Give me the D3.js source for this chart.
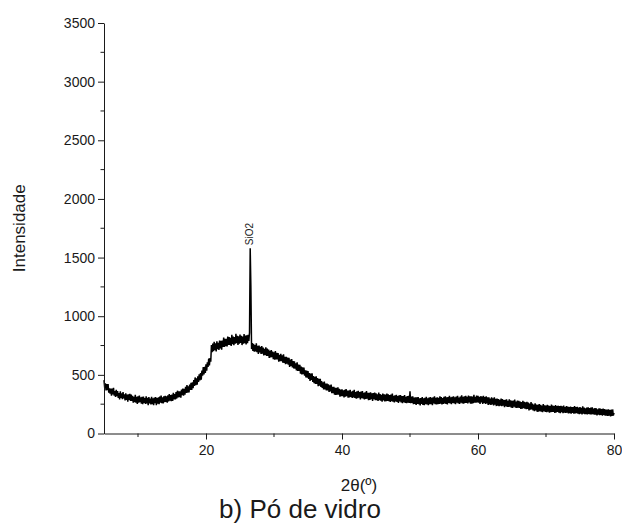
<!DOCTYPE html>
<html>
<head>
<meta charset="utf-8">
<script src="https://cdn.jsdelivr.net/npm/d3@7"></script>
<style>
  html, body { margin: 0; padding: 0; background: #fff; }
  svg { display: block; font-family: "Liberation Sans", Arial, sans-serif; }
</style>
</head>
<body>
<svg id="chart" width="622" height="529"></svg>
<script>
// ---- data (one row per degree, 0.1° steps) ----
const angleStart = 5;      // first 2θ of the scan
const angleStep = 0.1;     // scan step, degrees
const intensity = [
  455,390,428,368,421,370,422,348,384,340,
  382,323,383,334,390,322,361,312,372,318,
  361,303,345,291,359,303,343,293,354,299,
  333,282,342,287,332,272,335,286,338,277,
  332,277,322,263,312,267,330,263,312,253,
  318,263,323,268,309,255,312,249,315,262,
  303,253,318,256,305,241,310,256,297,247,
  312,250,300,242,306,259,311,241,303,254,
  308,249,314,263,324,259,308,257,318,267,
  322,269,317,262,326,273,337,280,328,275,
  332,278,346,291,337,291,354,298,365,307,
  360,309,360,305,374,327,384,323,380,331,
  397,345,413,349,403,351,417,371,433,371,
  436,386,456,406,478,412,470,416,488,440,
  504,453,516,459,536,493,566,503,568,517,
  590,536,606,568,638,580,644,612,755,693,
  766,702,782,710,768,700,786,720,774,712,
  792,726,791,715,792,738,819,737,808,744,
  807,743,827,755,823,755,815,746,841,762,
  827,754,823,766,851,771,834,756,829,765,
  844,772,832,754,826,766,848,770,836,760,
  838,770,842,790,860,1580,1250,720,770,705,
  765,697,754,700,768,693,747,679,750,692,
  740,678,746,681,733,665,721,669,734,662,
  724,662,715,645,704,648,712,651,699,634,
  692,630,702,631,687,631,685,612,670,616,
  680,617,667,604,676,601,653,590,654,595,
  648,587,645,568,630,577,635,564,618,555,
  615,553,599,537,607,533,587,533,585,511,
  571,503,564,506,563,493,538,478,537,477,
  532,466,516,448,512,456,514,440,490,430,
  484,422,487,423,472,404,466,407,467,398,
  448,389,436,375,442,375,426,367,426,367,
  420,354,410,358,417,343,397,343,399,330,
  390,328,390,332,393,331,381,314,374,318,
  377,318,368,307,373,314,379,319,366,306,
  366,307,373,312,357,303,364,307,373,304,
  354,296,359,301,364,306,353,291,358,302,
  361,298,346,291,352,294,361,296,346,285,
  346,287,351,292,342,277,345,292,350,285,
  342,284,335,277,348,284,337,279,330,272,
  341,283,334,274,331,275,340,278,333,275,
  328,270,331,275,340,272,321,265,326,274,
  329,269,320,260,325,273,328,264,319,259,
  320,268,327,261,312,258,319,263,322,260,
  360,258,314,260,317,250,307,252,309,243,
  308,252,311,249,300,240,303,253,310,244,
  300,242,304,250,313,247,299,241,306,250,
  311,251,305,242,308,256,318,249,305,247,
  308,250,304,252,316,254,311,247,303,253,
  313,257,317,252,308,248,310,261,321,257,
  309,251,313,260,318,256,308,249,315,263,
  321,257,307,252,314,262,326,257,313,255,
  317,261,321,260,312,256,324,265,317,255,
  317,255,315,259,329,264,312,262,324,266,
  322,262,313,253,318,266,315,253,322,260,
  310,253,316,257,308,243,308,249,298,243,
  308,247,300,239,308,246,295,234,297,238,
  293,232,288,237,298,232,293,238,286,225,
  288,233,291,226,278,227,291,228,282,221,
  278,217,281,228,290,221,273,218,280,221,
  278,219,273,210,267,212,278,217,270,211,
  266,207,270,209,264,197,256,203,267,205,
  255,196,247,190,257,196,247,185,244,187,
  250,190,245,187,237,182,250,190,241,183,
  238,182,244,187,239,177,233,182,246,184,
  239,183,233,176,242,180,234,185,237,177,
  234,174,235,181,231,174,238,178,225,175,
  234,178,230,171,225,173,230,168,226,176,
  225,169,233,172,226,174,228,169,221,165,
  226,170,219,163,231,170,222,164,215,165,
  220,162,223,167,216,162,220,163,223,165,
  212,160,217,161,214,154,207,161,214,156,
  213,159,208,152,213,159,208,152,203,153,
  204,150,207,153,199,146,204,149,205,153,
  176
];
const peakLabels = [{ angle: 26.5, value: 1580, text: "SiO2" }];
const xMajorTicks = [20, 40, 60, 80];
const xMinorTicks = [10, 30, 50, 70];
const yMajorTicks = [0, 500, 1000, 1500, 2000, 2500, 3000, 3500];
const yMinorTicks = [250, 750, 1250, 1750, 2250, 2750, 3250];
const xDomain = [5, 80];
const yDomain = [0, 3500];
const xTitle = "2θ(º)";
const yTitle = "Intensidade";
const caption = "b) Pó de vidro";

// ---- drawing ----
const svg = d3.select("#chart");
const ink = "#1a1a1a";
const x = d3.scaleLinear().domain(xDomain).range([104, 614]);
const y = d3.scaleLinear().domain(yDomain).range([433.5, 23]);

const pts = intensity.map((v, i) => ({ a: angleStart + i * angleStep, v }));

// curve
svg.append("path")
  .datum(pts)
  .attr("fill", "none")
  .attr("stroke", "#000")
  .attr("stroke-width", 1.5)
  .attr("stroke-linejoin", "bevel")
  .attr("d", d3.line().x(d => x(d.a)).y(d => y(d.v)));

// x axis
const gx = svg.append("g").attr("transform", `translate(0,${y(0)})`);
gx.call(d3.axisBottom(x).tickValues(xMajorTicks).tickSize(6).tickSizeOuter(0).tickPadding(6).tickFormat(d3.format("d")));
gx.append("g").selectAll("line").data(xMinorTicks).join("line")
  .attr("x1", d => x(d)).attr("x2", d => x(d)).attr("y1", 0).attr("y2", 3.5)
  .attr("stroke", ink);

// y axis
const gy = svg.append("g").attr("transform", `translate(${x(xDomain[0])},0)`);
gy.call(d3.axisLeft(y).tickValues(yMajorTicks).tickSize(6).tickSizeOuter(0).tickPadding(3).tickFormat(d3.format("d")));
gy.append("g").selectAll("line").data(yMinorTicks).join("line")
  .attr("y1", d => y(d)).attr("y2", d => y(d)).attr("x1", 0).attr("x2", -3.5)
  .attr("stroke", ink);

[gx, gy].forEach(g => {
  g.select(".domain").attr("stroke", ink);
  g.selectAll(".tick line").attr("stroke", ink);
  g.selectAll(".tick text").attr("fill", ink).attr("font-size", 14)
    .attr("font-family", "'Liberation Sans', Arial, sans-serif");
});

// peak label
peakLabels.forEach(p => {
  svg.append("text")
    .attr("transform", `translate(${x(p.angle) + 3},${y(p.value) - 3}) rotate(-90)`)
    .attr("font-size", 10)
    .attr("fill", ink)
    .text(p.text);
});

// axis titles
svg.append("text")
  .attr("transform", `translate(25,${(y(0) + y(3500)) / 2}) rotate(-90)`)
  .attr("text-anchor", "middle")
  .attr("font-size", 17)
  .attr("fill", ink)
  .text(yTitle);

svg.append("text")
  .attr("x", (x(5) + x(80)) / 2)
  .attr("y", 491)
  .attr("text-anchor", "middle")
  .attr("font-size", 17)
  .attr("fill", ink)
  .text(xTitle);

svg.append("text")
  .attr("x", 300)
  .attr("y", 518)
  .attr("text-anchor", "middle")
  .attr("font-size", 26)
  .attr("fill", ink)
  .text(caption);
</script>
</body>
</html>
